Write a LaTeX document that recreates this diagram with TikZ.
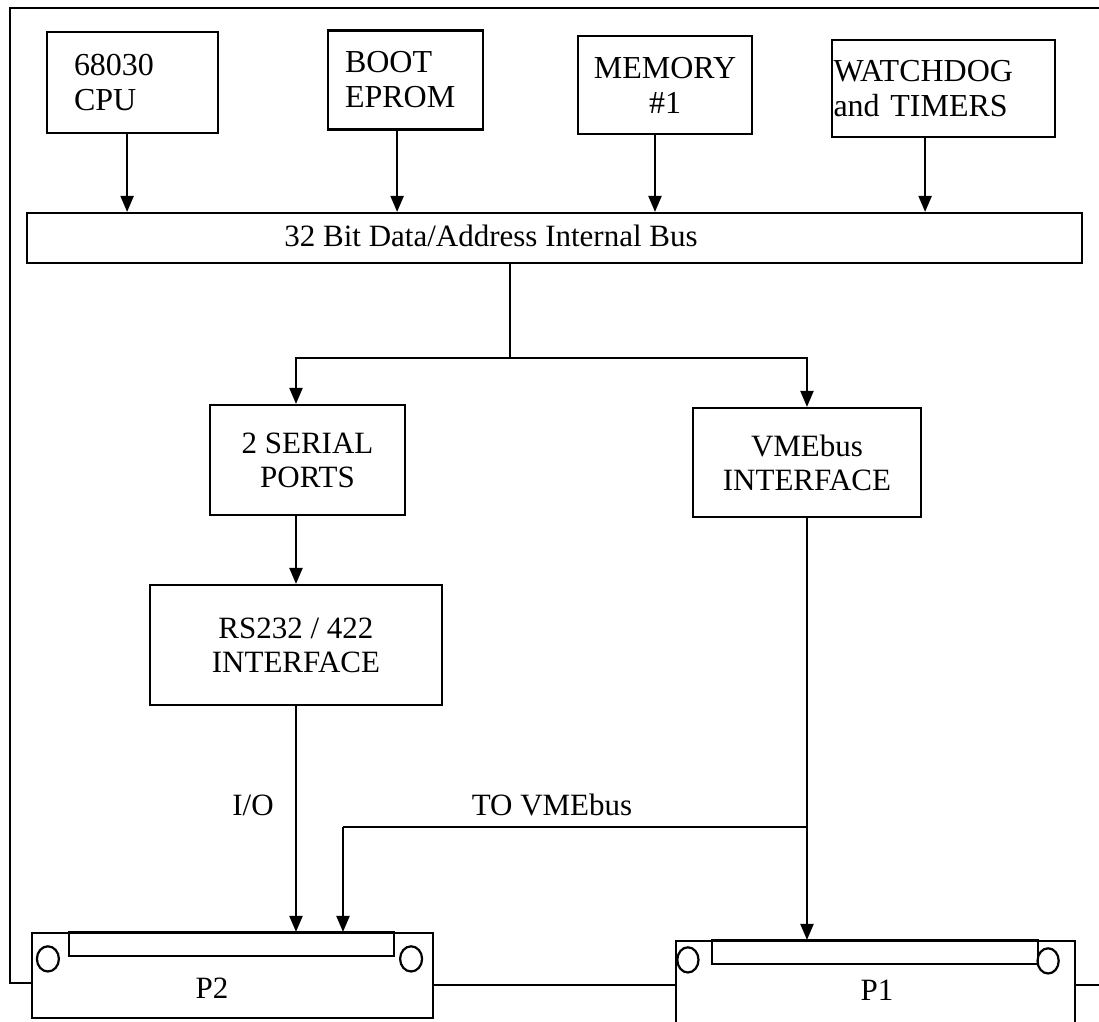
\documentclass[tikz,border=0pt]{standalone}
\usepackage{fontspec}
\setmainfont{Liberation Serif}
\usetikzlibrary{arrows.meta,positioning,calc}

\begin{document}
\begin{tikzpicture}[x=0.5pt,y=-0.5pt,line width=1.1pt,
  box/.style={draw,rectangle,inner sep=0pt,align=center,font=\fontsize{15.5}{17}\selectfont},
  topbox/.style={box,font=\fontsize{16}{17.5}\selectfont},
  lbl/.style={inner sep=0pt,font=\fontsize{15.5}{17}\selectfont},
  slot/.style={line width=1.1pt},
  arr/.style={-{Triangle[length=8pt,width=6.5pt]}}]
\useasboundingbox (0,0) rectangle (1099,1022);
% processor board blocks
\node[topbox,align=left,text width=58.5pt,inner xsep=13.5pt,minimum height=50.5pt] (cpu) at (132.5,82.5) {68030\\CPU};
\node[topbox,align=left,text width=60.5pt,inner xsep=8.5pt,minimum height=49.5pt] (boot) at (405.5,80) {BOOT\\EPROM};
\node[topbox,text width=83pt,inner xsep=2pt,minimum height=49pt] (mem) at (665,85) {MEMORY\\\#1};
\node[topbox,align=left,text width=110pt,inner xsep=0.75pt,minimum height=48.5pt] (wdog) at (943.5,88.5) {WATCHDOG\\and TIMERS};
\node[box,minimum width=527.5pt,minimum height=25pt] (bus) at (554.5,238) {};
\node[lbl] (bustxt) at (491,236) {32 Bit Data/Address Internal Bus};
\node[box,minimum width=97.5pt,minimum height=55pt] (serial) at (307.5,460) {2 SERIAL\\PORTS};
\node[box,minimum width=114pt,minimum height=54.5pt] (vme) at (807,462.5) {VMEbus\\INTERFACE};
\node[box,minimum width=146pt,minimum height=60pt] (rs) at (296,645) {RS232 / 422\\INTERFACE};
% connectors P2 and P1
\node[box,minimum width=200.5pt,minimum height=42.5pt] (p2) at (232.5,975.5) {};
\node[box,minimum width=199.5pt,minimum height=59.5pt] (p1) at (875.5,1000.5) {};
\node[lbl] (p2txt) at (212,988) {P2};
\node[lbl] (p1txt) at (877,990) {P1};
\draw[slot] ($(p2.north west)+(38,0)$) rectangle ($(p2.north east)+(-40,24)$);
\draw[slot] ($(p1.north west)+(37,0)$) rectangle ($(p1.north east)+(-38,24)$);
\draw ($(p2.north west)+(17,27)$) ellipse [x radius=5.5pt,y radius=6.3pt];
\draw ($(p2.north east)+(-23,27)$) ellipse [x radius=5.5pt,y radius=6.3pt];
\draw ($(p1.north west)+(13,20)$) ellipse [x radius=5.3pt,y radius=6.3pt];
\draw ($(p1.north east)+(-28,21)$) ellipse [x radius=5.3pt,y radius=6.3pt];
% board outline
\coordinate (frTR) at (1099,8);
\coordinate (frTL) at (10,8);
\coordinate (frBL) at (10,983);
\coordinate (lk) at (0,985);
\draw (frTR) -- (frTL) -- (frBL) -- (frBL -| p2.west);
\draw (p2.east |- lk) -- (p1.west |- lk);
\draw (p1.east |- lk) -- (lk -| frTR);
% onto the internal bus
\foreach \n/\dx in {cpu/-2.7pt,boot/-4.2pt,mem/-5pt,wdog/-9.2pt}{
  \coordinate (\n-o) at ([xshift=\dx]\n.south);
  \draw[arr] (\n-o) -- (\n-o |- bus.north);
}
% off the bus
\coordinate (split) at (510,358);
\draw (bus.south -| split) -- (split);
\draw[arr] (split) -| (rs.north |- serial.north);
\draw[arr] (split) -| (vme.north);
\draw[arr] (rs.north |- serial.south) -- (rs.north);
\draw[arr] (rs.south) -- (rs.south |- p2.north);
\node[lbl] (io) at (253,805) {I/O};
\coordinate (tap) at (807,827);
\coordinate (p2b) at (343,827);
\draw[arr] (vme.south) -- (vme.south |- p1.north);
\draw (tap) -- (p2b);
\draw[arr] (p2b) -- (p2b |- p2.north);
\node[lbl] (tovme) at (552,805) {TO VMEbus};
\end{tikzpicture}
\end{document}
